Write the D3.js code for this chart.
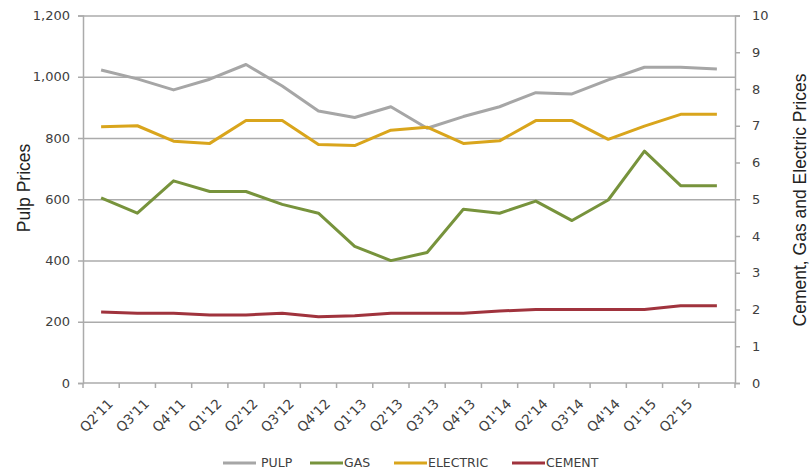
<!DOCTYPE html>
<html>
<head>
<meta charset="utf-8">
<script src="https://cdn.jsdelivr.net/npm/d3@7"></script>
<style>
  body { margin: 0; background: #fff; }
  svg text { font-family: "DejaVu Sans", Verdana, sans-serif; fill: #404040; }
  .title { font-family: "Liberation Sans", Arial, sans-serif !important; fill: #222; }
</style>
</head>
<body>
<svg id="chart" width="811" height="474"></svg>
<script>
var quarters = ["Q2'11","Q3'11","Q4'11","Q1'12","Q2'12","Q3'12","Q4'12","Q1'13","Q2'13",
                "Q3'13","Q4'13","Q1'14","Q2'14","Q3'14","Q4'14","Q1'15","Q2'15",""];
var pulp     = [1022, 993, 957, 992, 1040, 970, 888, 867, 902, 832, 870, 902, 948, 944, 990, 1031, 1031, 1025];
var gas      = [5.04, 4.62, 5.5, 5.21, 5.21, 4.86, 4.62, 3.72, 3.33, 3.55, 4.73, 4.62, 4.95, 4.42, 4.98, 6.31, 5.37, 5.37];
var electric = [6.97, 7.0, 6.58, 6.52, 7.14, 7.14, 6.49, 6.46, 6.88, 6.96, 6.52, 6.59, 7.14, 7.14, 6.63, 6.99, 7.31, 7.31];
var cement   = [1.93, 1.9, 1.9, 1.85, 1.85, 1.9, 1.8, 1.83, 1.9, 1.9, 1.9, 1.96, 2.0, 2.0, 2.0, 2.0, 2.1, 2.1];
var leftTicks = [0, 200, 400, 600, 800, 1000, 1200];
var rightTicks = [0, 1, 2, 3, 4, 5, 6, 7, 8, 9, 10];

var svg = d3.select("#chart");
var plotL = 83, plotR = 735, plotT = 15.5, plotB = 383;

var x = d3.scaleBand().domain(d3.range(quarters.length)).range([plotL, plotR]);
var yL = d3.scaleLinear().domain([0, 1200]).range([plotB, plotT]);
var yR = d3.scaleLinear().domain([0, 10]).range([plotB, plotT]);

// gridlines
svg.append("g")
    .attr("transform", "translate(" + plotL + ",0)")
    .call(d3.axisLeft(yL).tickValues(leftTicks.slice(1)).tickSize(-(plotR - plotL)).tickFormat(""))
    .call(g => g.select(".domain").remove())
    .selectAll("line").attr("stroke", "#ababab").attr("stroke-width", 1.5);

// left axis
var gl = svg.append("g")
    .attr("transform", "translate(" + plotL + ",0)")
    .call(d3.axisLeft(yL).tickValues(leftTicks).tickSize(5).tickPadding(8).tickFormat(d3.format(",")));
gl.select(".domain").attr("stroke", "#ababab").attr("stroke-width", 1.5);
gl.selectAll("line").attr("stroke", "#ababab").attr("stroke-width", 1.5);
gl.selectAll("text").style("font-size", "13px");

// right axis
var gr = svg.append("g")
    .attr("transform", "translate(" + plotR + ",0)")
    .call(d3.axisRight(yR).tickValues(rightTicks).tickSize(5).tickPadding(12));
gr.select(".domain").attr("stroke", "#ababab").attr("stroke-width", 1.5);
gr.selectAll("line").attr("stroke", "#ababab").attr("stroke-width", 1.5);
gr.selectAll("text").style("font-size", "13px");

// x axis
var xTickPos = d3.range(quarters.length + 1).map(i => plotL + i * x.step());
var gx = svg.append("g");
gx.append("line").attr("x1", plotL).attr("x2", plotR).attr("y1", plotB).attr("y2", plotB)
    .attr("stroke", "#ababab").attr("stroke-width", 1.5);
gx.selectAll(".xt").data(xTickPos).enter().append("line")
    .attr("x1", d => d).attr("x2", d => d).attr("y1", plotB).attr("y2", plotB + 5)
    .attr("stroke", "#ababab").attr("stroke-width", 1.5);
gx.selectAll(".xl").data(quarters).enter().append("text")
    .attr("transform", (d, i) => "translate(" + (x(i) + x.bandwidth() / 2 + 6) + "," + (plotB + 15) + ") rotate(-45)")
    .attr("text-anchor", "end")
    .attr("dy", "0.7em")
    .style("font-size", "13.5px")
    .text(d => d);

// series
var series = [
  { name: "PULP", values: pulp, scale: yL, color: "#a6a6a6" },
  { name: "GAS", values: gas, scale: yR, color: "#77933c" },
  { name: "ELECTRIC", values: electric, scale: yR, color: "#d9a51c" },
  { name: "CEMENT", values: cement, scale: yR, color: "#a0333d" }
];

series.forEach(function(s) {
  var line = d3.line()
      .x((d, i) => x(i) + x.bandwidth() / 2)
      .y(d => s.scale(d));
  svg.append("path")
      .attr("d", line(s.values))
      .attr("fill", "none")
      .attr("stroke", s.color)
      .attr("stroke-width", 3)
      .attr("stroke-linejoin", "round");
});

// axis titles
svg.append("text").attr("class", "title")
    .attr("transform", "translate(30,188) rotate(-90)")
    .attr("text-anchor", "middle")
    .style("font-size", "17.5px")
    .text("Pulp Prices");
svg.append("text").attr("class", "title")
    .attr("transform", "translate(806,200) rotate(-90)")
    .attr("text-anchor", "middle")
    .style("font-size", "17.5px")
    .text("Cement, Gas and Electric Prices");

// legend
var legendX = [223, 310, 394, 512];
var lg = svg.append("g").selectAll("g")
    .data(series)
    .enter().append("g")
    .attr("transform", (d, i) => "translate(" + legendX[i] + ",463)");
lg.append("line").attr("x1", 0).attr("x2", 33).attr("y1", 0).attr("y2", 0)
    .attr("stroke", d => d.color).attr("stroke-width", 3);
lg.append("text")
    .attr("x", (d, i) => i === 0 ? 38 : 34)
    .attr("dy", "0.35em")
    .style("font-size", "12.5px")
    .text(d => d.name);
</script>
</body>
</html>
